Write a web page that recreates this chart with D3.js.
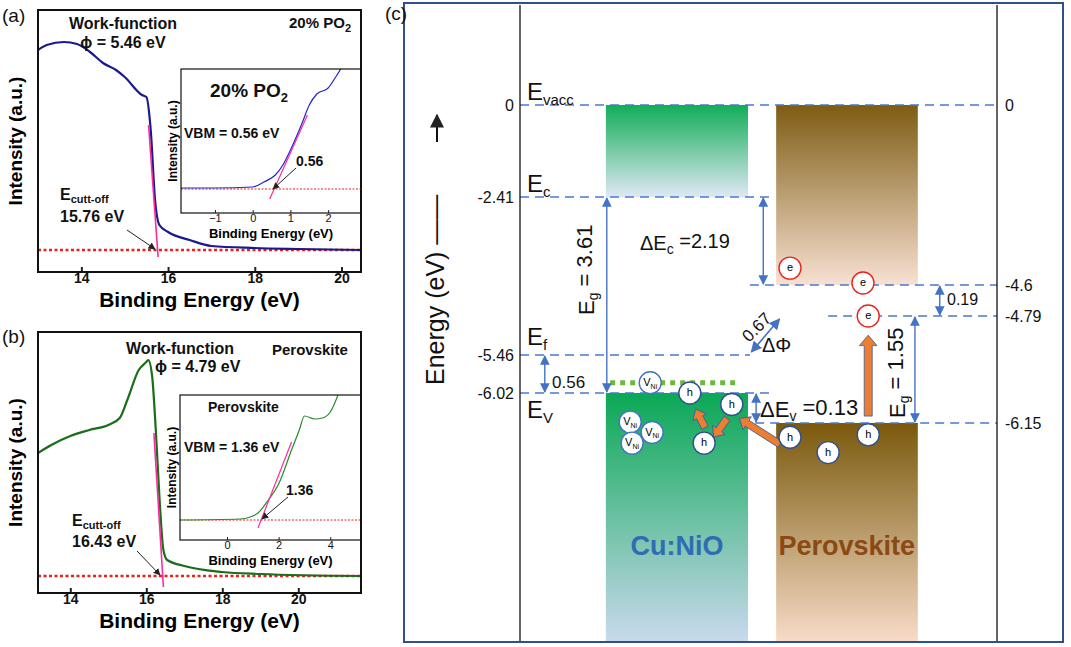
<!DOCTYPE html>
<html><head><meta charset="utf-8">
<script src="https://cdn.jsdelivr.net/npm/d3@7"></script>
<style>
body{margin:0;background:#fff;font-family:"Liberation Sans",Arial,sans-serif}
</style></head><body>
<svg id="fig" width="1071" height="647"></svg>
<script>
// ---- panel (a) spectra (counts above baseline) ----
const aX = [13.0,13.2,13.6,13.9,14.2,14.5,14.8,15.0,15.4,15.5,15.6,15.7,15.8,16.0,16.5,17.0,18.0,19.0,20.45];
const aY = [200,205,208,206,198,187,180,173,155,153,120,50,25,18,10,4,2,1,0];
const aFitX = [15.55,15.77], aFitY = [125,-7];
const aInX = [-1.9,-1,0,0.3,0.6,0.8,1.0,1.3,1.5,1.7,2.0,2.2,2.35];
const aInY = [1,1,2,7,14,24,39,65,84,95,101,112,121];
const aInFitX = [0.45,1.45], aInFitY = [-10,74];
// ---- panel (b) ----
const bX = [13.15,13.5,14.0,14.5,15.0,15.3,15.5,15.8,16.0,16.05,16.15,16.25,16.35,16.45,16.55,17.0,18.0,19.0,21.65];
const bY = [123,131,140,146,151,158,176,206,214,216,201,146,76,26,16,10,4,2,0];
const bFitX = [16.2,16.45], bFitY = [143,-11];
const bInX = [-1.82,0.5,0.9,1.2,1.6,2.0,2.5,2.8,3.0,3.4,3.7,4.0,4.3];
const bInY = [0,1,3,7,20,36,70,90,104,101,102,108,125];
const bInFitX = [1.2,2.5], bInFitY = [-8,78];
// ---- panel (c) energy levels ----
const levelE = [0,-2.41,-4.6,-4.79,-5.46,-6.02,-6.15,-8];
const levelPx = [105,197,285,316,355,393,423,642];
const leftLabels = ["0","-2.41","-5.46","-6.02"];
const rightLabels = ["0","-4.6","-4.79","-6.15"];
const dashLines = [ // energy, from, to (position units 0..100)
  {e:0,a:0,b:100},{e:-2.41,a:0,b:52.4},{e:-4.6,a:48.2,b:100},{e:-4.79,a:64.6,b:100},
  {e:-5.46,a:0,b:48.2},{e:-6.02,a:0,b:52.4},{e:-6.15,a:49.3,b:100}];
const bands = [
  {x0:18,x1:47.8,e0:0,e1:-2.41,c0:"#12ad58",c1:"#dfe8f4"},
  {x0:18,x1:47.8,e0:-6.02,e1:-8,c0:"#0aa855",c1:"#cad9ee"},
  {x0:53.7,x1:83.4,e0:0,e1:-4.6,c0:"#7e5c14",c1:"#f8e1d2"},
  {x0:53.7,x1:83.4,e0:-6.15,e1:-8,c0:"#7a590c",c1:"#f8dcc8"}];
const gaps = [ // vertical double arrows
  {x:18.2,e0:-2.41,e1:-6.02},{x:51,e0:-2.41,e1:-4.6},{x:5.2,e0:-5.46,e1:-6.02},
  {x:49.5,e0:-6.02,e1:-6.15},{x:88,e0:-4.6,e1:-4.79},{x:82.8,e0:-4.79,e1:-6.15}];
const vacancies = [{x:27.3,e:-5.87},{x:23.1,e:-6.146},{x:27.7,e:-6.23},{x:23.5,e:-6.32}];
const holes = [{x:35.6,e:-6.02},{x:44.4,e:-6.07},{x:38.6,e:-6.32},{x:56.6,e:-6.27},{x:64.6,e:-6.40},{x:73,e:-6.25}];
const electrons = [{x:56.6,e:-4.18},{x:71.9,e:-4.55},{x:73,e:-4.79}];
const hopArrows = [ // orange arrows x0,e0 -> x1,e1
  {x0:54.5,e0:-6.33,x1:46,e1:-6.13},{x0:38.8,e0:-6.19,x1:36.8,e1:-6.09},
  {x0:43.4,e0:-6.13,x1:40.6,e1:-6.27},{x0:73,e0:-6.12,x1:73,e1:-5.12}];

const svg = d3.select("#fig");
const defs = svg.append("defs");
function marker(id, color, size){
  defs.append("marker").attr("id",id).attr("viewBox","0 0 10 10").attr("refX",9).attr("refY",5)
    .attr("markerWidth",size).attr("markerHeight",size).attr("orient","auto-start-reverse")
    .append("path").attr("d","M0,0L10,5L0,10z").attr("fill",color);
}
marker("blk","#222",7); marker("blu","#4472c4",7);

function spectrum(o){
  const x = d3.scaleLinear().domain(o.xd).range([o.l,o.r]);
  const y = d3.scaleLinear().domain(o.yd).range([o.b,o.t]);
  const g = svg.append("g");
  const clip = "clip"+Math.round(o.l)+"_"+Math.round(o.t);
  defs.append("clipPath").attr("id",clip).append("rect")
    .attr("x",o.l).attr("y",o.t).attr("width",o.r-o.l).attr("height",o.b-o.t);
  const pg = g.append("g").attr("clip-path",`url(#${clip})`);
  pg.append("line").attr("x1",o.l).attr("x2",o.r).attr("y1",y(0)).attr("y2",y(0))
    .attr("stroke","#e8231e").attr("stroke-width",o.inset?1:2.5).attr("stroke-dasharray",o.inset?"2,1.5":"3,2.5");
  pg.append("path").datum(d3.range(o.xs.length))
    .attr("d",d3.line().curve(d3.curveMonotoneX).x(i=>x(o.xs[i])).y(i=>y(o.ys[i])))
    .attr("fill","none").attr("stroke",o.color).attr("stroke-width",o.inset?1.2:2.2);
  pg.append("line").attr("x1",x(o.fx[0])).attr("x2",x(o.fx[1])).attr("y1",y(o.fy[0])).attr("y2",y(o.fy[1]))
    .attr("stroke","#ff2a9d").attr("stroke-width",o.inset?1.2:1.6);
  const ax = g.append("g").attr("transform",`translate(0,${o.b})`)
    .call(d3.axisBottom(x).tickValues(o.ticks).tickSizeInner(o.inset?-3:-5).tickSizeOuter(0).tickFormat(d3.format("d")));
  ax.select(".domain").remove();
  ax.selectAll("line").attr("stroke","#222").attr("stroke-width",o.inset?1:2);
  ax.selectAll("text").attr("font-family","Liberation Sans").attr("font-weight",o.inset?"normal":"bold")
    .attr("font-size",o.inset?11:14).attr("fill","#111").attr("dy",o.inset?"0.5em":"0.6em");
  g.append("rect").attr("x",o.l).attr("y",o.t).attr("width",o.r-o.l).attr("height",o.b-o.t)
    .attr("fill","none").attr("stroke","#111").attr("stroke-width",o.inset?1.2:2);
  g.append("text").attr("x",(o.l+o.r)/2).attr("y",o.b+(o.inset?25:35)).attr("text-anchor","middle")
    .attr("font-weight","bold").attr("font-size",o.inset?13:21).text("Binding Energy (eV)");
  g.append("text").attr("transform",`translate(${o.inset?o.l-4:o.l-16},${(o.t+o.b)/2}) rotate(-90)`)
    .attr("text-anchor","middle").attr("font-weight","bold").attr("font-size",o.inset?12:19).text("Intensity (a.u.)");
  return {x,y,g};
}
function txt(x,y,s,size,opts={}){
  const t = svg.append("text").attr("x",x).attr("y",y).attr("font-size",size)
    .attr("font-weight",opts.w||"bold").attr("fill",opts.c||"#111").attr("text-anchor",opts.a||"start");
  if(opts.rot!=null) t.attr("transform",`rotate(${opts.rot},${x},${y})`);
  if(typeof s==="string") t.text(s); else s.forEach(p=>t.append("tspan").attr("font-size",p[1]||size).attr("dy",p[2]||0).text(p[0]));
  return t;
}
function arrow(x1,y1,x2,y2,m,c,w){
  svg.append("line").attr("x1",x1).attr("y1",y1).attr("x2",x2).attr("y2",y2)
    .attr("stroke",c).attr("stroke-width",w).attr("marker-end",`url(#${m})`);
}

// panel a
spectrum({xd:[13,20.45],yd:[-22,240],l:38,r:361,t:10,b:272,xs:aX,ys:aY,fx:aFitX,fy:aFitY,color:"#1a1a8c",ticks:[14,16,18,20]});
spectrum({xd:[-1.9,2.87],yd:[-24,120],l:181,r:361,t:69,b:213,xs:aInX,ys:aInY,fx:aInFitX,fy:aInFitY,color:"#2424c8",ticks:[-1,0,1,2],inset:true});
txt(2,22,"(a)",19,{w:"normal"});
txt(123,29,"Work-function",16,{a:"middle"});
txt(123,48,"ϕ = 5.46 eV",16,{a:"middle"});
txt(289,28,[["20% PO"],["2",11,"0.35em"]],15);
txt(210,97,[["20% PO"],["2",13,"0.35em"]],19);
txt(184,138,"VBM = 0.56 eV",14);
txt(296,166,"0.56",14);
arrow(296,168,273,189,"blk","#222",1);
txt(60,200,[["E"],["cutt-off",11,"0.3em"]],16);
txt(60,222,"15.76 eV",16);
arrow(127,230,155,249,"blk","#222",1);

// panel b
spectrum({xd:[13.15,21.65],yd:[-17,244],l:38,r:361,t:332,b:593,xs:bX,ys:bY,fx:bFitX,fy:bFitY,color:"#1a6e1a",ticks:[14,16,18,20]});
spectrum({xd:[-1.82,5.19],yd:[-20,125],l:180,r:361,t:395,b:540,xs:bInX,ys:bInY,fx:bInFitX,fy:bInFitY,color:"#2a8a2a",ticks:[0,2,4],inset:true});
txt(2,343,"(b)",19,{w:"normal"});
txt(180,354,"Work-function",16,{a:"middle"});
txt(155,372,"ϕ = 4.79 eV",16);
txt(272,355,"Perovskite",15);
txt(208,412,"Perovskite",14);
txt(184,452,"VBM = 1.36 eV",14);
txt(286,495,"1.36",14);
arrow(288,497,262,519,"blk","#222",1);
txt(72,526,[["E"],["cutt-off",11,"0.3em"]],16);
txt(72,547,"16.43 eV",16);
arrow(137,551,160,575,"blk","#222",1);

// panel c
const cx = d3.scaleLinear().domain([0,100]).range([520,997]);
const cy = d3.scaleLinear().domain(levelE).range(levelPx);
const C = svg.append("g").attr("font-family","Liberation Sans");
txt(385,20,"(c)",19,{w:"normal"});
bands.forEach((b,i)=>{
  const gr = defs.append("linearGradient").attr("id","bg"+i).attr("x1",0).attr("x2",0).attr("y1",0).attr("y2",1);
  gr.append("stop").attr("offset","0%").attr("stop-color",b.c0);
  gr.append("stop").attr("offset","100%").attr("stop-color",b.c1);
  C.append("rect").attr("x",cx(b.x0)).attr("width",cx(b.x1)-cx(b.x0))
    .attr("y",cy(b.e0)).attr("height",cy(b.e1)-cy(b.e0)).attr("fill",`url(#bg${i})`);
});
C.selectAll(".dl").data(dashLines).join("line").attr("x1",d=>cx(d.a)).attr("x2",d=>cx(d.b))
  .attr("y1",d=>cy(d.e)).attr("y2",d=>cy(d.e)).attr("stroke","#4a78d0").attr("stroke-width",1.6).attr("stroke-dasharray","9,6");
C.append("line").attr("x1",cx(0)).attr("x2",cx(0)).attr("y1",5).attr("y2",642).attr("stroke","#111").attr("stroke-width",1.3);
C.append("line").attr("x1",cx(100)).attr("x2",cx(100)).attr("y1",5).attr("y2",642).attr("stroke","#111").attr("stroke-width",1.3);
[0,-2.41,-5.46,-6.02].forEach((e,i)=>txt(cx(0)-6,cy(e)+6,leftLabels[i],16,{w:"normal",a:"end"}));
[0,-4.6,-4.79,-6.15].forEach((e,i)=>txt(cx(100)+8,cy(e)+6,rightLabels[i],16,{w:"normal"}));
C.append("rect").attr("x",404).attr("y",3).attr("width",659).attr("height",639).attr("fill","none").attr("stroke","#2f4f8f").attr("stroke-width",2);
txt(444,385,"Energy (eV) ——",25,{w:"normal",rot:-90});
arrow(437,142,437,115,"blk","#111",2);
txt(527,100,[["E"],["vacc",15,"0.3em"]],24,{w:"normal"});
txt(527,192,[["E"],["c",15,"0.3em"]],24,{w:"normal"});
txt(527,345,[["E"],["f",15,"0.3em"]],24,{w:"normal"});
txt(527,418,[["E"],["V",15,"0.3em"]],24,{w:"normal"});
C.append("line").attr("x1",cx(18.9)).attr("x2",cx(46.1)).attr("y1",cy(-5.87)).attr("y2",cy(-5.87))
  .attr("stroke","#6fb83f").attr("stroke-width",5).attr("stroke-dasharray","5,5");
gaps.forEach(d=>{
  C.append("line").attr("x1",cx(d.x)).attr("x2",cx(d.x)).attr("y1",cy(d.e0)+1).attr("y2",cy(d.e1)-1)
    .attr("stroke","#4472c4").attr("stroke-width",1.4).attr("marker-start","url(#blu)").attr("marker-end","url(#blu)");
});
C.append("line").attr("x1",cx(48.5)).attr("y1",cy(-5.46)-3).attr("x2",cx(54.4)).attr("y2",cy(-4.79)+3)
  .attr("stroke","#4472c4").attr("stroke-width",1.6).attr("marker-start","url(#blu)").attr("marker-end","url(#blu)");
txt(594,315,[["E"],["g",14,"0.3em"],[" = 3.61",22,"-0.3em"]],22,{w:"normal",rot:-90});
txt(640,250,[["ΔE"],["c",14,"0.3em"],[" =2.19",20,"-0.3em"]],20,{w:"normal"});
txt(552,388,"0.56",17,{w:"normal"});
txt(760,417,[["ΔE"],["v",14,"0.3em"],[" =0.13",22,"-0.3em"]],22,{w:"normal"});
txt(947,305,"0.19",16,{w:"normal"});
txt(905,418,[["E"],["g",14,"0.3em"],[" = 1.55",22,"-0.3em"]],22,{w:"normal",rot:-90});
txt(749,343,"0.67",17,{w:"normal",rot:-45});
txt(762,352,"ΔΦ",20,{w:"normal"});
hopArrows.forEach(d=>{
  const x1=cx(d.x0),y1=cy(d.e0),x2=cx(d.x1),y2=cy(d.e1);
  const L=Math.hypot(x2-x1,y2-y1), a=Math.atan2(y2-y1,x2-x1)*180/Math.PI;
  const w=d.x0===d.x1?4:3.5, hw=w*2.2, hl=w*2.6;
  C.append("path").attr("transform",`translate(${x1},${y1}) rotate(${a})`)
    .attr("d",`M0,${-w}L${L-hl},${-w}L${L-hl},${-hw}L${L},0L${L-hl},${hw}L${L-hl},${w}L0,${w}Z`)
    .attr("fill","#ed7d31").attr("stroke","#3d5a9a").attr("stroke-width",0.8);
});
function particle(d,label,sub,stroke){
  const g=C.append("g").attr("transform",`translate(${cx(d.x)},${cy(d.e)})`);
  g.append("circle").attr("r",11).attr("fill","#fff").attr("stroke",stroke).attr("stroke-width",1.4);
  const t=g.append("text").attr("text-anchor","middle").attr("dy","0.3em").attr("font-size",11).text(label);
  if(sub) t.append("tspan").attr("font-size",7).attr("dy","0.35em").text(sub);
}
vacancies.forEach(d=>particle(d,"V","Ni","#4472c4"));
holes.forEach(d=>particle(d,"h",null,"#2f4f8f"));
electrons.forEach(d=>particle(d,"e",null,"#e8231e"));
txt(cx(32.9),555,"Cu:NiO",27,{a:"middle",c:"#2e6db4"});
txt(cx(68.5),555,"Perovskite",27,{a:"middle",c:"#8b4a12"});
</script></body></html>
